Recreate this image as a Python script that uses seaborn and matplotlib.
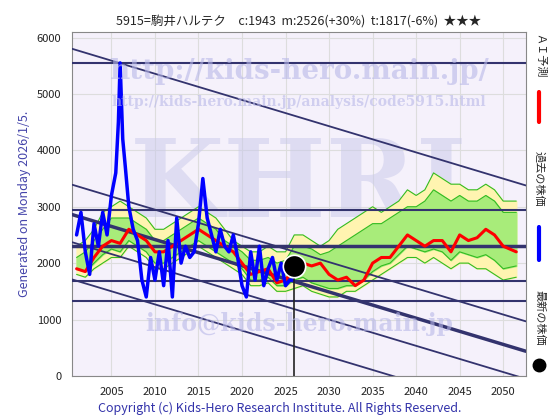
import matplotlib
matplotlib.use("Agg")
import matplotlib.pyplot as plt
import numpy as np
import seaborn as sns

# actual price (blue)
past_year = [2001, 2001.5, 2002, 2002.5, 2003, 2003.5, 2004, 2004.5, 2005, 2005.5, 2005.8, 2006,
             2006.3, 2006.6, 2007, 2007.5, 2008, 2008.5, 2009, 2009.5, 2010, 2010.5, 2011, 2011.5,
             2012, 2012.5, 2013, 2013.5, 2014, 2014.5, 2015, 2015.5, 2016, 2016.5, 2017, 2017.5,
             2018, 2018.5, 2019, 2019.5, 2020, 2020.5, 2021, 2021.5, 2022, 2022.5, 2023, 2023.5,
             2024, 2024.5, 2025, 2025.5, 2025.9]
past_price = [2500, 2900, 2200, 1800, 2700, 2300, 2900, 2500, 3200, 3600, 4500, 5550,
              4200, 3700, 3000, 2600, 2400, 1700, 1400, 2100, 1700, 2200, 1600, 2400,
              1400, 2800, 2000, 2300, 2100, 2200, 2700, 3500, 2800, 2500, 2200, 2600,
              2300, 2200, 2500, 2100, 1600, 1400, 2200, 1700, 2300, 1600, 1900, 2100,
              1700, 2000, 1600, 1700, 1700]

# AI forecast (red) and band
ai_year = list(range(2001, 2051)) + [2051.5]
ai_price = [1900, 1850, 2100, 2300, 2400, 2350, 2600, 2500, 2400, 2200, 2200, 2300, 2400, 2500,
            2600, 2500, 2400, 2300, 2200, 2000, 1800, 1850, 1900, 1650, 1700, 1900, 2000, 1950,
            2000, 1800, 1700, 1750, 1600, 1700, 2000, 2100, 2100, 2300, 2500, 2400, 2300, 2400,
            2400, 2200, 2500, 2400, 2450, 2600, 2500, 2300, 2200]
band_hi = [2300, 2400, 2600, 2900, 3000, 3100, 3000, 2900, 2800, 2600, 2600, 2700, 2800, 2900,
           3000, 2900, 2800, 2600, 2400, 2300, 2200, 2200, 2300, 2200, 2200, 2500, 2500, 2400,
           2300, 2400, 2600, 2700, 2800, 2900, 3000, 2900, 3000, 3100, 3300, 3200, 3300, 3600,
           3500, 3400, 3400, 3300, 3300, 3400, 3300, 3100, 3100]
band_lo = [1800, 1750, 1900, 2000, 2100, 2100, 2300, 2200, 2100, 1900, 1900, 2000, 2100, 2200,
           2300, 2200, 2100, 2000, 1900, 1800, 1600, 1600, 1650, 1500, 1500, 1550, 1600, 1500,
           1450, 1400, 1400, 1500, 1500, 1600, 1700, 1800, 1900, 2000, 2100, 2100, 2000, 2100,
           2000, 1900, 2000, 2000, 1900, 1900, 1800, 1700, 1750]
inner_hi = [2100, 2200, 2400, 2600, 2800, 2800, 2800, 2700, 2600, 2400, 2400, 2500, 2600, 2700,
            2800, 2700, 2600, 2400, 2300, 2200, 2050, 2050, 2100, 2000, 2050, 2300, 2300, 2250,
            2150, 2200, 2300, 2400, 2500, 2600, 2700, 2700, 2800, 2900, 3000, 3000, 3100, 3300,
            3200, 3100, 3200, 3100, 3100, 3200, 3100, 2900, 2900]
inner_lo = [1900, 1850, 2000, 2150, 2250, 2200, 2400, 2300, 2200, 2000, 2000, 2100, 2200, 2300,
            2400, 2300, 2200, 2100, 2000, 1900, 1700, 1700, 1750, 1600, 1600, 1700, 1750, 1650,
            1600, 1550, 1550, 1600, 1600, 1700, 1850, 1950, 2000, 2150, 2300, 2250, 2200, 2250,
            2200, 2050, 2200, 2150, 2100, 2150, 2050, 1900, 1950]

# support/resistance lines
h_levels = [5550, 2950, 2300, 1680, 1330]
h_widths = [1.5, 1.5, 2.5, 1.5, 1.5]
trend_start = [5800, 3390, 2860, 2370, 1710]  # values at 2000.5
trend_widths = [1.3, 1.3, 2.5, 1.3, 1.3]
trend_slope = -46.5

latest_year, latest_price = 2026, 1943

sns.set_theme(style="whitegrid")
plt.rcParams["font.family"] = ["Noto Sans CJK JP", "DejaVu Sans"]

navy = "#33336e"
fig = plt.figure(figsize=(5.6, 4.2), dpi=100)
ax = fig.add_axes([0.129, 0.105, 0.81, 0.819])
ax.set_facecolor("#f5f1fb")

ax.fill_between(ai_year, band_lo, band_hi, color="#fff4b0", zorder=2)
ax.fill_between(ai_year, inner_lo, inner_hi, color="#a8ec7a", zorder=2)
for s in [band_hi, band_lo, inner_hi, inner_lo]:
    sns.lineplot(x=ai_year, y=s, ax=ax, color="#33bb22", lw=0.8, zorder=3)

x0, x1 = 2000.5, 2052.6
for lv, w in zip(h_levels, h_widths):
    ax.plot([x0, x1], [lv, lv], color=navy, lw=w, zorder=4)
for st, w in zip(trend_start, trend_widths):
    ax.plot([x0, x1], [st, st + trend_slope * (x1 - x0)], color=navy, lw=w, zorder=4)

sns.lineplot(x=ai_year, y=ai_price, ax=ax, color="red", lw=2.2, zorder=5)
sns.lineplot(x=past_year, y=past_price, ax=ax, color="blue", lw=2.5, zorder=6)
ax.plot([latest_year, latest_year], [0, latest_price], color="#222222", lw=1.2, zorder=6)
ax.scatter([latest_year], [latest_price], s=260, color="black", edgecolor="white", lw=1.2, zorder=7)

# watermarks
wm = dict(transform=ax.transAxes, color="#b8b8e8", alpha=0.6, ha="center", va="center",
          family="DejaVu Serif", fontweight="bold", zorder=8)
ax.text(0.5, 0.55, "KHRI", fontsize=78, **{**wm, "color": "#c8c8ea", "alpha": 0.5, "zorder": 1})
ax.text(0.5, 0.885, "http://kids-hero.main.jp/", fontsize=20, **wm)
ax.text(0.5, 0.795, "http://kids-hero.main.jp/analysis/code5915.html", fontsize=10, **wm)
ax.text(0.5, 0.15, "info@kids-hero.main.jp", fontsize=17, **wm)

ax.set_xlim(x0, x1)
ax.set_ylim(0, 6100)
ax.set_xticks(range(2005, 2051, 5))
ax.set_yticks(range(0, 6001, 1000))
ax.tick_params(labelsize=8, pad=2, colors="#222222")
ax.grid(True, color="#dddddd", lw=0.8)
for sp in ax.spines.values():
    sp.set_color("#888888")
    sp.set_linewidth(0.8)

ax.set_title("5915=駒井ハルテク　c:1943  m:2526(+30%)  t:1817(-6%)  ★★★", fontsize=9, pad=5)
ax.set_ylabel("Generated on Monday 2026/1/5.", color="#4444aa", fontsize=9, labelpad=4)
fig.text(0.5, 0.012, "Copyright (c) Kids-Hero Research Institute. All Rights Reserved.",
         ha="center", va="bottom", fontsize=9, color="#3333aa")

# right side legend
fig.text(0.963, 0.92, "ＡＩ予測", rotation=270, ha="center", va="top", fontsize=8)
fig.add_artist(plt.Line2D([0.963, 0.963], [0.71, 0.78], color="red", lw=3))
fig.text(0.963, 0.64, "過去の株価", rotation=270, ha="center", va="top", fontsize=8)
fig.add_artist(plt.Line2D([0.963, 0.963], [0.38, 0.46], color="blue", lw=3))
fig.text(0.963, 0.31, "最新の株価", rotation=270, ha="center", va="top", fontsize=8)
fig.add_artist(plt.Line2D([0.963], [0.13], marker="o", color="black", ms=9))

fig.savefig("out.png", dpi=100)
